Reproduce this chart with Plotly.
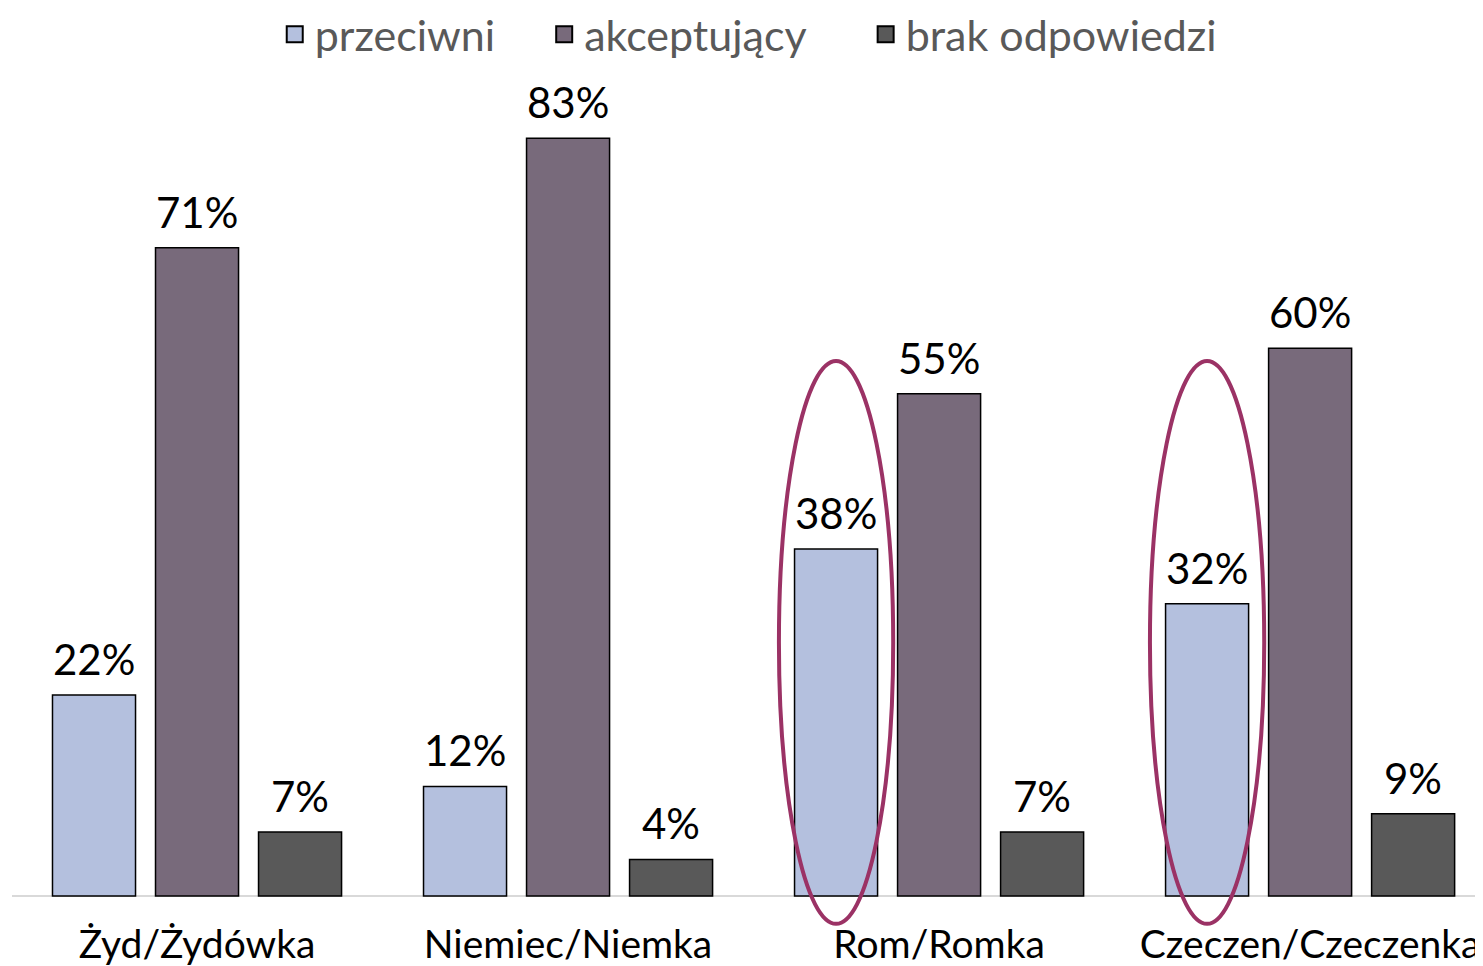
import plotly.graph_objects as go

categories = ["Żyd/Żydówka", "Niemiec/Niemka", "Rom/Romka", "Czeczen/Czeczenka"]
series_names = ["przeciwni", "akceptujący", "brak odpowiedzi"]
przeciwni = [22, 12, 38, 32]
akceptujacy = [71, 83, 55, 60]
brak = [7, 4, 7, 9]
highlighted = ["Rom/Romka", "Czeczen/Czeczenka"]

values = [przeciwni, akceptujacy, brak]
colors = ["#B4C0DE", "#786A7B", "#595959"]
FONT = "Lato"
PADS = ["\u00a0" * 4, "\u00a0" * 5, ""]

fig = go.Figure()
for name, vals, col in zip(series_names, values, colors):
    fig.add_trace(go.Bar(
        x=categories, y=vals, name=name, legendgroup=name, showlegend=False,
        marker=dict(color=col, line=dict(color="#000000", width=1.5)),
        hoverinfo="x+y+name",
    ))
# legend entries with larger square swatches
for name, col, pad in zip(series_names, colors, PADS):
    fig.add_trace(go.Scatter(
        x=[None], y=[None], mode="markers",
        name=name + pad,
        legendgroup=name,
        marker=dict(symbol="square", size=16, color=col,
                    line=dict(color="#000000", width=2)),
        hoverinfo="skip",
    ))

bargap = 0.167
groupgap = 0.194
slot = (1 - bargap) / 3
offsets = [-slot, 0, slot]

annotations = []
for j, vals in enumerate(values):
    for i, v in enumerate(vals):
        annotations.append(dict(
            x=i + offsets[j], y=v, xref="x", yref="y",
            text=f"{v}%", showarrow=False, yanchor="bottom",
            yshift=9, font=dict(family=FONT, size=42, color="#000000"),
        ))

shapes = []
for cat in highlighted:
    i = categories.index(cat)
    cx = i + offsets[0]
    shapes.append(dict(
        type="circle", xref="x", yref="y",
        x0=cx - 0.154, x1=cx + 0.154, y0=-3.05, y1=58.6,
        line=dict(color="#9B3265", width=4), fillcolor="rgba(0,0,0,0)",
        layer="above",
    ))

fig.update_layout(
    width=1483, height=966,
    margin=dict(l=4, r=8, t=0, b=48, autoexpand=False),
    paper_bgcolor="white", plot_bgcolor="white",
    barmode="group", bargap=bargap, bargroupgap=groupgap,
    font=dict(family=FONT, color="#000000"),
    legend=dict(
        orientation="h", x=0.5005, xanchor="center", y=1.009, yanchor="top",
        font=dict(family=FONT, size=43, color="#595959"),
        itemwidth=30, bgcolor="rgba(0,0,0,0)",
    ),
    xaxis=dict(
        range=[-0.4987, 3.466], showgrid=False, showline=False, ticks="",
        tickfont=dict(family=FONT, size=39, color="#000000"),
        automargin=False, zeroline=False, ticklabelstandoff=-8,
    ),
    yaxis=dict(range=[-3.29, 97.26], showgrid=False, showticklabels=False,
               zeroline=True, zerolinecolor="#D9D9D9", zerolinewidth=2,
               automargin=False),
    annotations=annotations,
    shapes=shapes,
)

fig.write_html("out.html")
